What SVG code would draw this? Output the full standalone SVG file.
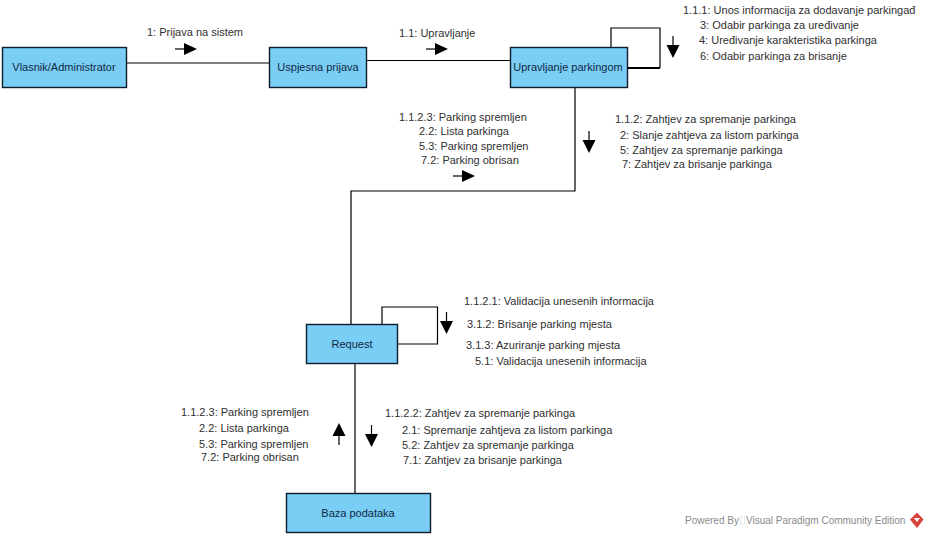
<svg xmlns="http://www.w3.org/2000/svg" width="929" height="537" viewBox="0 0 929 537">
<defs>
<style>
.n{fill:#7acdf4;stroke:#0d1b2a;stroke-width:1.4}
.nt{font:11px "Liberation Sans",Arial,sans-serif;fill:#102a44;text-anchor:middle}
.t{font:11px "Liberation Sans",Arial,sans-serif;fill:#303030}
.p{font:10px "Liberation Sans",Arial,sans-serif;fill:#8a8a8a}
.c{fill:none;stroke:#000;stroke-width:1.2}
.a{stroke:#000;stroke-width:1.2;fill:none}
.h{fill:#000}
</style>
<g id="ar"><path class="a" d="M-9 0H0"/><path class="h" d="M0 -6L13 0L0 6Z"/></g>
<g id="ad"><path class="a" d="M0 -9V0"/><path class="h" d="M-6.500 0L0 13L6.500 0Z"/></g>
<g id="au"><path class="a" d="M0 9V0"/><path class="h" d="M-6.500 0L0 -13L6.500 0Z"/></g>
</defs>
<rect width="929" height="537" fill="#fff"/>
<g id="connectors">
<path class="c" d="M127 63H269"/>
<path class="c" d="M367 60.500H511"/>
<path class="c" d="M611 47V28H660V68"/>
<path class="c" style="stroke-width:2" d="M628 68H660"/>
<path class="c" d="M575 88V191H351V325"/>
<path class="c" d="M382 324V307H437.500V344H397"/>
<path class="c" d="M355 364V493"/>
</g>
<g id="arrows">
<use href="#ar" x="184" y="49"/>
<use href="#ar" x="435" y="49"/>
<use href="#ad" x="673" y="45"/>
<use href="#ad" x="589" y="140"/>
<use href="#ar" x="462" y="176"/>
<use href="#ad" x="446.500" y="321"/>
<use href="#ad" x="371.500" y="434"/>
<use href="#au" x="339" y="436"/>
</g>
<g id="vlasnik"><rect class="n" x="2.500" y="47.500" width="124" height="40"/><text class="nt" x="64" y="71">Vlasnik/Administrator</text></g>
<g id="uspjesna"><rect class="n" x="269.500" y="47.500" width="97" height="40"/><text class="nt" x="318" y="71">Uspjesna prijava</text></g>
<g id="upravljanje"><rect class="n" x="510.500" y="47.500" width="117" height="40"/><text class="nt" x="568" y="71">Upravljanje parkingom</text></g>
<g id="request"><rect class="n" x="306.500" y="324.500" width="91" height="39"/><text class="nt" x="352" y="348">Request</text></g>
<g id="baza"><rect class="n" x="286.500" y="493.500" width="144" height="39"/><text class="nt" x="358" y="517">Baza podataka</text></g>
<g id="labels">
<text class="t" x="147" y="36">1: Prijava na sistem</text>
<text class="t" x="399" y="37">1.1: Upravljanje</text>
<text class="t" x="683" y="14">1.1.1: Unos informacija za dodavanje parkingađ</text>
<text class="t" x="700" y="29">3: Odabir parkinga za uređivanje</text>
<text class="t" x="699" y="44">4: Uređivanje karakteristika parkinga</text>
<text class="t" x="700" y="60">6: Odabir parkinga za brisanje</text>
<text class="t" x="615" y="123">1.1.2: Zahtjev za spremanje parkinga</text>
<text class="t" x="620" y="139">2: Slanje zahtjeva za listom parkinga</text>
<text class="t" x="620" y="154">5: Zahtjev za spremanje parkinga</text>
<text class="t" x="622" y="168">7: Zahtjev za brisanje parkinga</text>
<text class="t" x="399" y="121">1.1.2.3: Parking spremljen</text>
<text class="t" x="419" y="135">2.2: Lista parkinga</text>
<text class="t" x="419" y="150">5.3: Parking spremljen</text>
<text class="t" x="421" y="164">7.2: Parking obrisan</text>
<text class="t" x="464" y="305">1.1.2.1: Validacija unesenih informacija</text>
<text class="t" x="467" y="328">3.1.2: Brisanje parking mjesta</text>
<text class="t" x="466" y="349">3.1.3: Azuriranje parking mjesta</text>
<text class="t" x="475" y="365">5.1: Validacija unesenih informacija</text>
<text class="t" x="181" y="416">1.1.2.3: Parking spremljen</text>
<text class="t" x="199" y="432">2.2: Lista parkinga</text>
<text class="t" x="199" y="448">5.3: Parking spremljen</text>
<text class="t" x="201" y="461">7.2: Parking obrisan</text>
<text class="t" x="385" y="417">1.1.2.2: Zahtjev za spremanje parkinga</text>
<text class="t" x="402" y="434">2.1: Spremanje zahtjeva za listom parkinga</text>
<text class="t" x="402" y="449">5.2: Zahtjev za spremanje parkinga</text>
<text class="t" x="403" y="464">7.1: Zahtjev za brisanje parkinga</text>
</g>
<g id="watermark">
<text class="p" x="685" y="524">Powered By</text>
<rect x="740.500" y="516.500" width="4" height="8" fill="none" stroke="#e4e4e4" stroke-width=".8"/>
<text class="p" x="746" y="524">Visual Paradigm Community Edition</text>
<path d="M917 512.500L923.500 519.500L917 528L910 519.500Z" fill="#d9423a"/>
<path d="M914 518H920L917 522Z" fill="#fff"/>
</g>
</svg>
